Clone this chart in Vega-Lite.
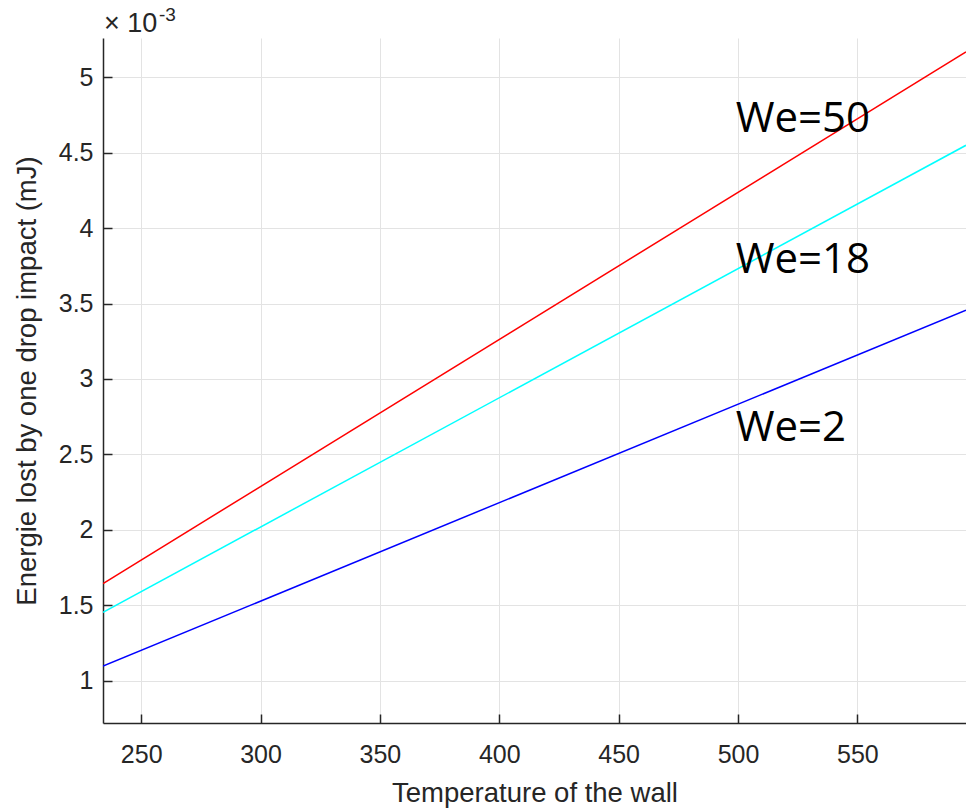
{
  "$schema": "https://vega.github.io/schema/vega-lite/v6.json",
  "autosize": {"type": "none"},
  "padding": {"left": 103, "top": 38, "right": 0, "bottom": 86},
  "width": 863,
  "height": 685,
  "background": "white",
  "config": {
    "view": {"stroke": null},
    "axis": {
      "labelFont": "Liberation Sans",
      "labelFontSize": 25,
      "labelColor": "#262626",
      "titleFont": "Liberation Sans",
      "titleFontSize": 27.5,
      "titleFontWeight": "normal",
      "titleColor": "#262626",
      "domainColor": "#262626",
      "domainWidth": 1.5,
      "tickColor": "#262626",
      "tickWidth": 1.5,
      "tickSize": -9,
      "gridColor": "#e3e3e3",
      "gridWidth": 1
    }
  },
  "datasets": {
    "lines": [
      {"T": 234, "E": 1.644, "series": "We=50"},
      {"T": 595.5, "E": 5.168, "series": "We=50"},
      {"T": 234, "E": 1.454, "series": "We=18"},
      {"T": 595.5, "E": 4.549, "series": "We=18"},
      {"T": 234, "E": 1.097, "series": "We=2"},
      {"T": 595.5, "E": 3.456, "series": "We=2"}
    ],
    "labels": [
      {"T": 499, "E": 4.636, "label": "We=50"},
      {"T": 499, "E": 3.70, "label": "We=18"},
      {"T": 499, "E": 2.59, "label": "We=2"}
    ],
    "scale": [
      {"T": 234, "E": 5.26, "base": "× 10", "exp": "-3"}
    ]
  },
  "layer": [
    {
      "data": {"name": "lines"},
      "mark": {"type": "line", "strokeWidth": 1.5, "clip": true},
      "encoding": {
        "x": {
          "field": "T",
          "type": "quantitative",
          "scale": {"domain": [234, 595.5], "nice": false, "zero": false},
          "axis": {
            "title": "Temperature of the wall",
            "values": [250, 300, 350, 400, 450, 500, 550],
            "format": "d",
            "labelPadding": 28,
            "titlePadding": 12,
            "labelFlush": false
          }
        },
        "y": {
          "field": "E",
          "type": "quantitative",
          "scale": {"domain": [0.72, 5.26], "nice": false, "zero": false},
          "axis": {
            "title": "Energie lost by one drop impact (mJ)",
            "values": [1, 1.5, 2, 2.5, 3, 3.5, 4, 4.5, 5],
            "format": "~g",
            "labelPadding": 19,
            "titlePadding": 17,
            "labelFlush": false
          }
        },
        "color": {
          "field": "series",
          "type": "nominal",
          "scale": {"domain": ["We=50", "We=18", "We=2"], "range": ["#ff0000", "#00ffff", "#0000ff"]},
          "legend": null
        }
      }
    },
    {
      "data": {"name": "labels"},
      "mark": {"type": "text", "align": "left", "baseline": "alphabetic", "font": "Open Sans", "fontSize": 42, "color": "#000000"},
      "encoding": {
        "x": {"field": "T", "type": "quantitative"},
        "y": {"field": "E", "type": "quantitative"},
        "text": {"field": "label"}
      }
    },
    {
      "data": {"name": "scale"},
      "mark": {"type": "text", "align": "left", "baseline": "alphabetic", "font": "Liberation Sans", "fontSize": 27, "color": "#262626", "dx": 1, "dy": -6},
      "encoding": {
        "x": {"field": "T", "type": "quantitative"},
        "y": {"field": "E", "type": "quantitative"},
        "text": {"field": "base"}
      }
    },
    {
      "data": {"name": "scale"},
      "mark": {"type": "text", "align": "left", "baseline": "alphabetic", "font": "Liberation Sans", "fontSize": 19, "color": "#262626", "dx": 56, "dy": -17},
      "encoding": {
        "x": {"field": "T", "type": "quantitative"},
        "y": {"field": "E", "type": "quantitative"},
        "text": {"field": "exp"}
      }
    }
  ]
}
